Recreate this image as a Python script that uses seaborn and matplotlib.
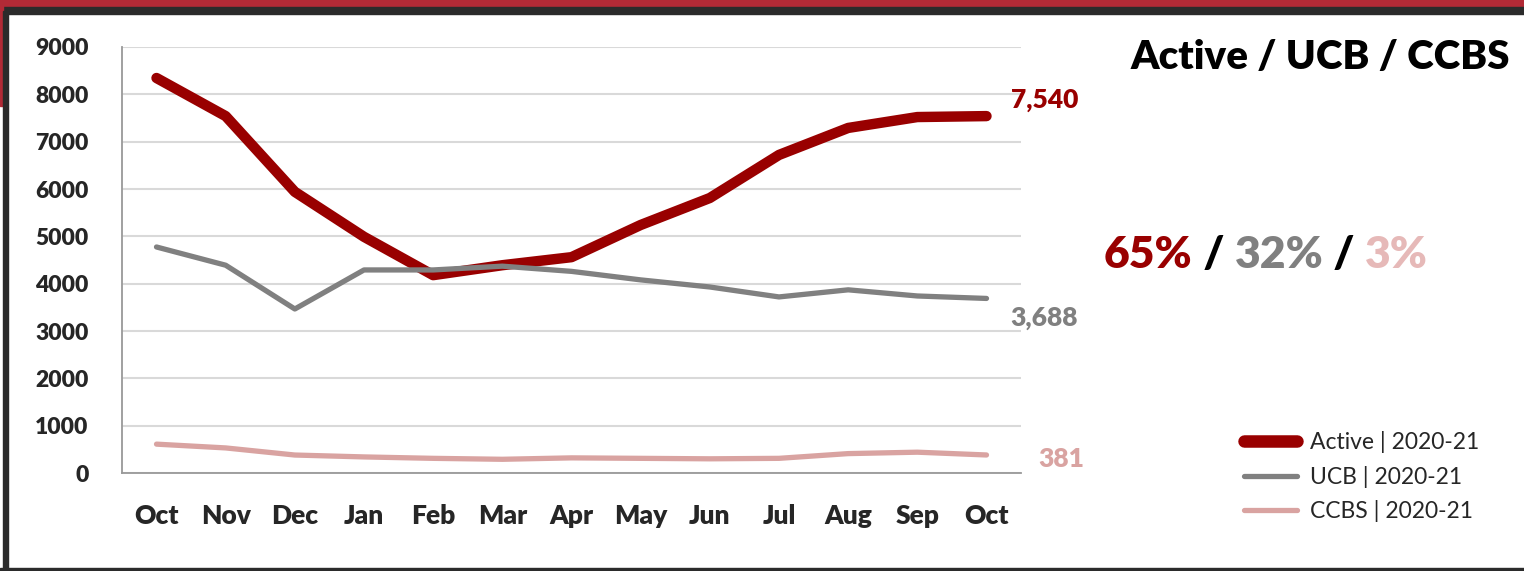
import numpy as np
import pandas as pd
import matplotlib
matplotlib.use("Agg")
import matplotlib.pyplot as plt
from matplotlib.patches import Rectangle
from matplotlib.lines import Line2D
import seaborn as sns

# --- data ---
months = ["Oct", "Nov", "Dec", "Jan", "Feb", "Mar", "Apr",
          "May", "Jun", "Jul", "Aug", "Sep", "Oct"]
active = [8345, 7540, 5940, 4990, 4180, 4390, 4560, 5240, 5810, 6720, 7290, 7520, 7540]
ucb = [4775, 4390, 3465, 4290, 4290, 4370, 4260, 4080, 3930, 3720, 3870, 3740, 3688]
ccbs = [610, 530, 380, 340, 310, 290, 320, 310, 300, 310, 410, 440, 381]
series_names = ["Active | 2020-21", "UCB | 2020-21", "CCBS | 2020-21"]
shares = ["65%", "32%", "3%"]
end_labels = ["7,540", "3,688", "381"]

COLORS = ["#990000", "#808080", "#d9a3a1"]
WIDTHS = [7.5, 3.8, 3.8]

sns.set_theme(style="white")
plt.rcParams["font.family"] = ["Lato", "DejaVu Sans"]

df = pd.DataFrame({"x": np.arange(len(months)), "Active": active, "UCB": ucb, "CCBS": ccbs})
long = df.melt(id_vars="x", var_name="series", value_name="value")

fig = plt.figure(figsize=(15.24, 5.71), dpi=100)
ax = fig.add_axes([0.080, 0.1716, 0.590, 0.7461])

for (key, color, lw) in zip(["Active", "UCB", "CCBS"], COLORS, WIDTHS):
    sns.lineplot(data=long[long["series"] == key], x="x", y="value", ax=ax,
                 color=color, linewidth=lw, solid_capstyle="round",
                 solid_joinstyle="round", legend=False, zorder=3)

ax.set_xlim(-0.5, len(months) - 0.5)
ax.set_ylim(0, 9000)
ax.set_yticks(np.arange(0, 9001, 1000))
ax.set_yticklabels([str(v) for v in range(0, 9001, 1000)], fontsize=16.5, fontweight="heavy")
ax.set_xticks(np.arange(len(months)))
ax.set_xticklabels(months, fontsize=19, fontweight="heavy")
ax.set_xticks(np.arange(-0.5, len(months)), minor=True)
ax.tick_params(axis="x", which="major", length=0, pad=22)
ax.tick_params(axis="x", which="minor", length=9, width=1.2, color="#888888", direction="out")
ax.tick_params(axis="y", length=0, pad=24)
ax.set_xlabel("")
ax.set_ylabel("")
ax.grid(axis="y", color="#d9d9d9", linewidth=1.5, zorder=0)
for s in ["top", "right"]:
    ax.spines[s].set_visible(False)
ax.spines["left"].set_color("#999999")
ax.spines["left"].set_linewidth(1.3)
ax.spines["bottom"].set_color("#999999")
ax.spines["bottom"].set_linewidth(1.3)

# end-of-line value labels
last = len(months) - 1
offsets = [(0.35, 330), (0.35, -410), (0.75, -80)]
for vals, lab, color, (dx, dy) in zip([active, ucb, ccbs], end_labels, COLORS, offsets):
    ax.text(last + dx, vals[-1] + dy, lab, color=color, fontsize=19, fontweight="heavy",
            ha="left", va="center", clip_on=False)

# title and share
fig.text(0.991, 0.900, "Active / UCB / CCBS", ha="right", va="center",
         fontsize=29, fontweight="heavy", color="black")
parts = [(shares[0], COLORS[0]), (" / ", "black"), (shares[1], COLORS[1]),
         (" / ", "black"), (shares[2], "#e6b9b8")]
fig.canvas.draw()
renderer = fig.canvas.get_renderer()
x0 = 1104 / 1524
for txt, col in parts:
    t = fig.text(x0, 0.553, txt, ha="left", va="center", fontsize=32,
                 fontweight="heavy", color=col)
    bb = t.get_window_extent(renderer=renderer)
    x0 += bb.width / fig.bbox.width

# legend
handles = [Line2D([0], [0], color=c, linewidth=w if i else 9, solid_capstyle="round")
           for i, (c, w) in enumerate(zip(COLORS, WIDTHS))]
fig.legend(handles, series_names, loc="center left", bbox_to_anchor=(0.806, 0.165),
           frameon=False, fontsize=16.5, handlelength=2.3, handletextpad=0.55,
           labelspacing=0.55, borderpad=0.2)

# page frame
fig.patches.append(Rectangle((0, 0.988), 1, 0.012, transform=fig.transFigure,
                             color="#b22a36", zorder=0))
fig.patches.append(Rectangle((0, 0.975), 1, 0.013, transform=fig.transFigure,
                             color="#2b2b2b", zorder=0))
fig.patches.append(Rectangle((0, 0.815), 0.002, 0.185, transform=fig.transFigure,
                             color="#b22a36", zorder=0))
fig.patches.append(Rectangle((0.002, 0), 0.0035, 0.98, transform=fig.transFigure,
                             color="#2b2b2b", zorder=0))
fig.patches.append(Rectangle((0, 0), 1, 0.006, transform=fig.transFigure,
                             color="#2b2b2b", zorder=0))

fig.savefig("out.png", dpi=100)
